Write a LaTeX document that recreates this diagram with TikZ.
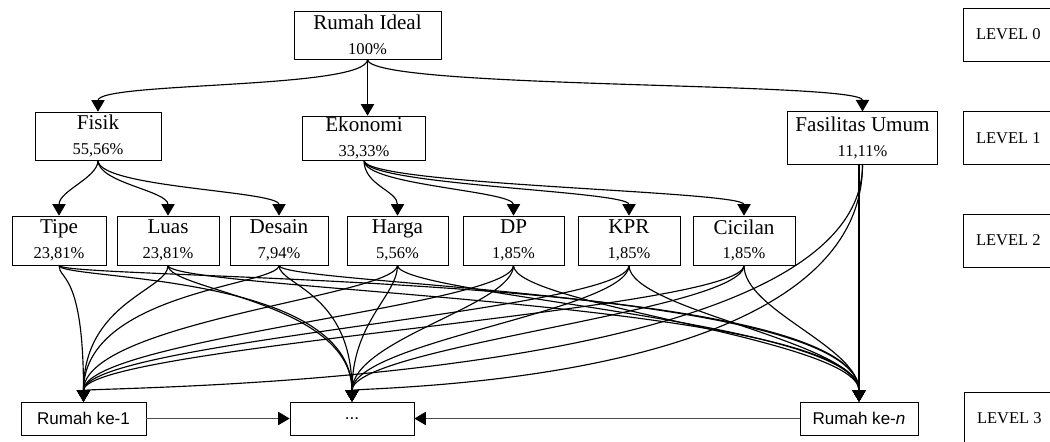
\documentclass[tikz,border=0pt]{standalone}
\usepackage{fontspec}
\setmainfont{Liberation Serif}
\setsansfont{Liberation Sans}
\usetikzlibrary{arrows.meta}
\newcommand{\pct}[1]{{\fontsize{9.4}{11}\selectfont #1}}

\begin{document}
\begin{tikzpicture}[
	box/.style={draw,fill=white,inner sep=0pt,align=center,font=\fontsize{12}{14}\selectfont},
	hbox/.style={draw,fill=white,inner sep=0pt,minimum height=0.66cm,font=\sffamily\fontsize{9.7}{11}\selectfont},
	lvl/.style={draw,anchor=west,inner sep=0pt,minimum width=1.8cm,minimum height=1.06cm,font=\fontsize{9.4}{11}\selectfont},
	link/.style={-{Triangle[length=6.5pt,width=7.5pt]},line width=0.65pt},
	hlink/.style={-{Triangle[length=6.5pt,width=7.5pt,color=black]},line width=0.65pt,gray!60!black}]
	\useasboundingbox (0,0) rectangle (21,-8.82);
	% level 0
	\node[box,minimum width=2.94cm,minimum height=0.96cm] (ideal) at (7.35,-0.70) {Rumah Ideal\\\pct{100\%}};
	% level 1
	\node[box,minimum width=2.52cm,minimum height=0.96cm] (fisik) at (1.96,-2.72) {Fisik\\\pct{55,56\%}};
	\node[box,minimum width=2.46cm,minimum height=0.88cm] (ekonomi) at (7.28,-2.76) {Ekonomi\\\pct{33,33\%}};
	\node[box,minimum width=3.01cm,minimum height=1.05cm] (fasum) at (17.25,-2.76) {Fasilitas Umum\\\pct{11,11\%}};
	% level 2
	\node[box,minimum width=1.88cm,minimum height=0.98cm] (tipe) at (1.18,-4.81) {Tipe\\\pct{23,81\%}};
	\node[box,minimum width=2.04cm,minimum height=0.98cm] (luas) at (3.36,-4.81) {Luas\\\pct{23,81\%}};
	\node[box,minimum width=1.96cm,minimum height=0.98cm] (desain) at (5.58,-4.81) {Desain\\\pct{7,94\%}};
	\node[box,minimum width=2.02cm,minimum height=0.98cm] (harga) at (7.95,-4.81) {Harga\\\pct{5,56\%}};
	\node[box,minimum width=2.02cm,minimum height=0.98cm] (dp) at (10.27,-4.81) {DP\\\pct{1,85\%}};
	\node[box,minimum width=2.04cm,minimum height=0.98cm] (kpr) at (12.58,-4.81) {KPR\\\pct{1,85\%}};
	\node[box,minimum width=2.04cm,minimum height=0.98cm] (cicilan) at (14.88,-4.81) {Cicilan\\\pct{1,85\%}};
	% level 3
	\node[hbox,minimum width=2.5cm] (r1) at (1.67,-8.37) {Rumah ke-1};
	\node[hbox,minimum width=2.48cm] (rdots) at (7.04,-8.37) {...};
	\node[hbox,minimum width=2.36cm] (rn) at (17.18,-8.37) {Rumah ke-\textit{n}};
	% level labels
	\node[lvl] (lv0) at (19.26,-0.69) {LEVEL 0};
	\node[lvl] (lv1) at (19.26,-2.76) {LEVEL 1};
	\node[lvl] (lv2) at (19.26,-4.81) {LEVEL 2};
	\node[lvl] (lv3) at (19.28,-8.37) {LEVEL 3};
	% edges
	\draw[link] (ideal.south) .. controls +(0,-0.6) and +(0,0.6) .. (fisik.north);
	\draw[link] (ideal.south) -- (ideal.south |- ekonomi.north);
	\draw[link] (ideal.south) .. controls +(0,-0.6) and +(0,0.6) .. (fasum.north);
	\foreach \t/\a in {tipe/0.35,luas/0.45,desain/0.55}
		\draw[link] (fisik.south) .. controls +(0,-\a) and +(0,0.5) .. (\t.north);
	\foreach \t in {harga,dp,kpr,cicilan}
		\draw[link] (ekonomi.south) .. controls +(0,-0.5) and +(0,0.5) .. (\t.north);
	\foreach \s/\a/\b in {tipe/0.3/2.6,luas/0.5/2.0,desain/0.4/2.2,harga/0.6/1.6,dp/0.8/1.25,kpr/0.9/1.2,cicilan/0.9/1.1}
		\foreach \t in {r1,rdots,rn}
			\draw[link] (\s.south) .. controls +(0,-\a) and +(0,\b) .. (\t.north);
	\foreach \t in {r1,rdots}
		\draw[link] (fasum.south) .. controls +(0,-4.5) and +(0,0.3) .. (\t.north);
	\draw[link] (rn.north |- fasum.south) -- (rn.north);
	\draw[hlink] (r1) -- (rdots);
	\draw[hlink] (rn) -- (rdots);
\end{tikzpicture}
\end{document}
